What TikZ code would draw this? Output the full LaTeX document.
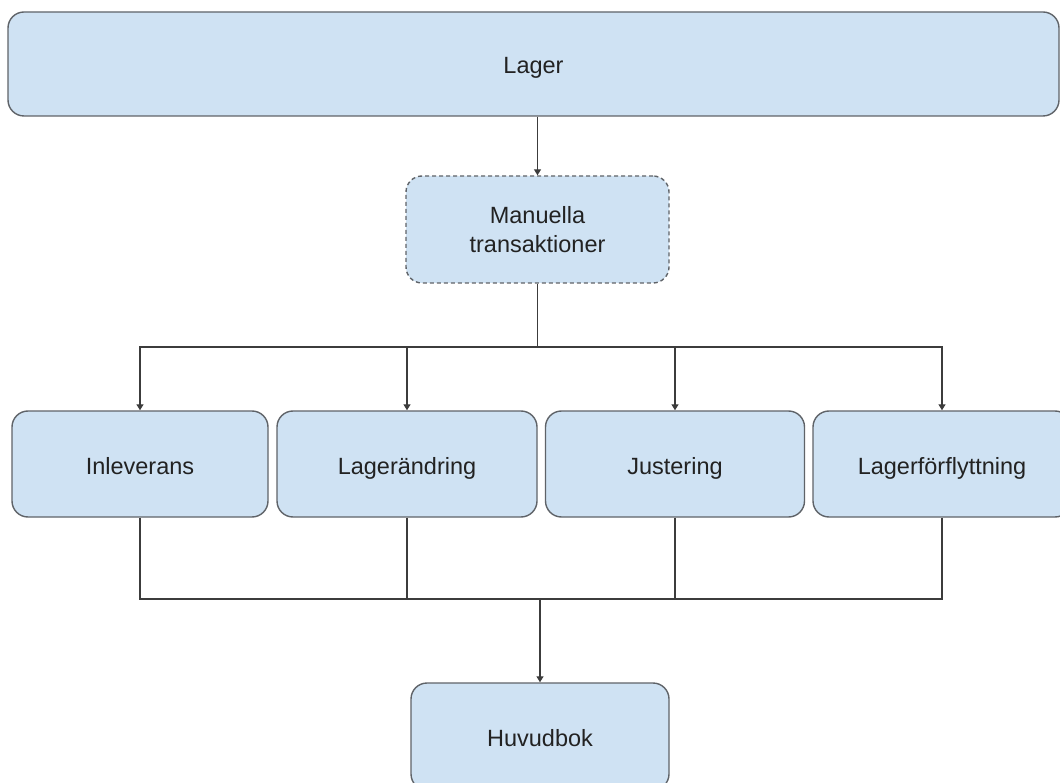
\documentclass[tikz,border=0pt]{standalone}
\usepackage{fontspec}
\setmainfont{Liberation Sans}
\usetikzlibrary{arrows.meta}
\definecolor{boxfill}{HTML}{CFE2F3}
\definecolor{boxline}{HTML}{5F6368}
\definecolor{wire}{HTML}{3C3C3C}
\definecolor{ink}{HTML}{222222}
\begin{document}
\begin{tikzpicture}[x=1pt,y=-1pt,
  stagebox/.style={draw=boxline, line width=1.4pt, fill=boxfill,
    rounded corners=16pt, text=ink, align=center, inner sep=0pt,
    font=\fontsize{23.5}{29}\selectfont},
  onelinebox/.style={stagebox, text height=24pt, text depth=4pt},
  dashedbox/.style={stagebox, dash pattern=on 4pt off 3pt},
  wire/.style={draw=wire, line width=1.3pt},
  flow/.style={wire, -{Triangle[width=7pt,length=6pt]}}]
  \useasboundingbox (0,0) rectangle (1060,783);
  \clip (0,0) rectangle (1060,783);

  % top source and manual step
  \node[onelinebox, minimum width=1051pt, minimum height=104pt] (lager) at (533.5,64) {Lager};
  \node[dashedbox, minimum width=263pt, minimum height=107pt] (manual) at (537.5,229.5) {Manuella\\transaktioner};

  % transaction kinds
  \node[onelinebox, minimum width=256pt, minimum height=106pt] (inl) at (140,464) {Inleverans};
  \node[onelinebox, minimum width=260pt, minimum height=106pt] (chg) at (407,464) {Lagerändring};
  \node[onelinebox, minimum width=259pt, minimum height=106pt] (adj) at (675,464) {Justering};
  \node[onelinebox, minimum width=258pt, minimum height=106pt] (mov) at (942,464) {Lagerförflyttning};

  % ledger
  \node[onelinebox, minimum width=258pt, minimum height=107pt] (ledger) at (540,736.5) {Huvudbok};

  % branch and merge points
  \coordinate (split) at (537.5,347);
  \coordinate (join) at (540,599);

  \draw[flow] (manual.north |- lager.south) -- (manual.north);
  \draw[wire] (manual.south) -- (split);
  \foreach \t in {inl,chg,adj,mov}
    \draw[flow] (split) -| (\t.north);
  \foreach \t in {inl,chg,adj,mov}
    \draw[wire] (\t.south) |- (join);
  \draw[flow] (join) -- (ledger.north);
\end{tikzpicture}
\end{document}
